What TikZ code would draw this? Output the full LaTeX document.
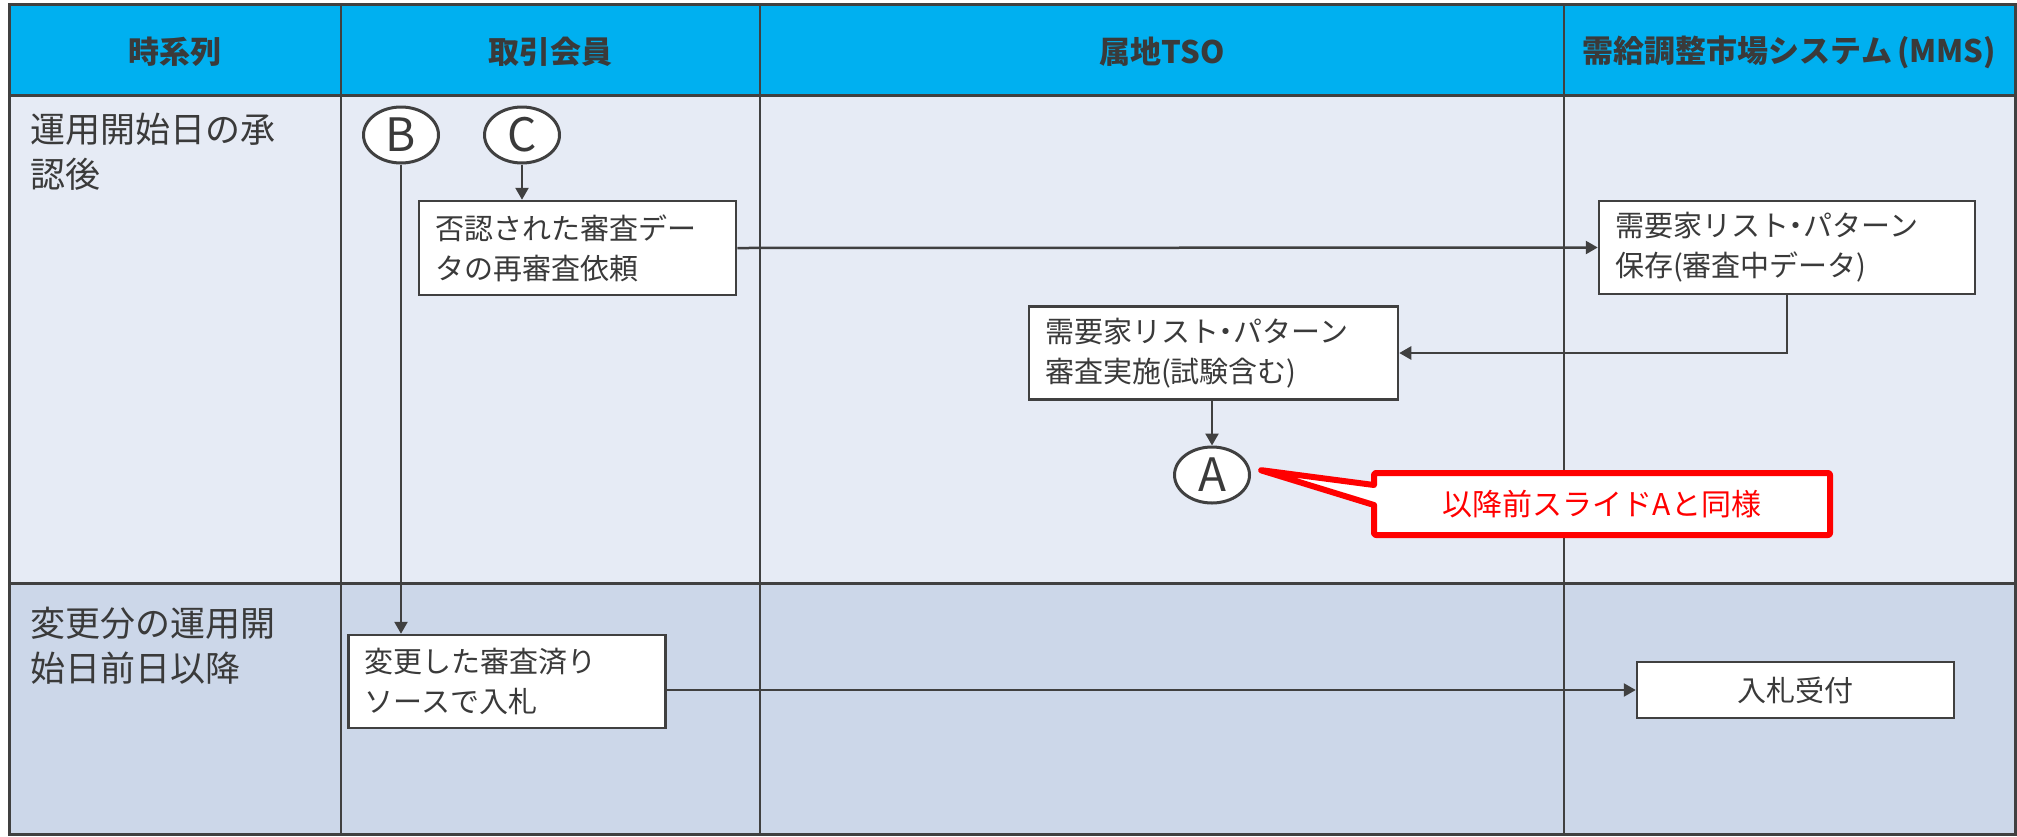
\documentclass[tikz,border=0pt]{standalone}
\usepackage{fontspec}
\setmainfont{Noto Sans CJK JP}
\usetikzlibrary{arrows.meta,shapes.geometric,shapes.callouts,calc}
\definecolor{hdr}{HTML}{00B0F0}
\definecolor{rowa}{HTML}{E6EBF5}
\definecolor{rowb}{HTML}{CCD7E9}
\definecolor{ln}{HTML}{404040}
\definecolor{txt}{HTML}{3A3A3A}
\definecolor{callred}{HTML}{FF0000}
\newcommand{\pdot}{{\addfontfeature{RawFeature=+palt}・}}
\begin{document}
\begin{tikzpicture}[x=1pt,y=-1pt,
  gridline/.style={draw=ln,line width=2pt},
  frameline/.style={draw=ln,line width=3pt},
  hdrtext/.style={font=\fontsize{31}{31}\selectfont\bfseries, text=txt, inner sep=0},
  lbl/.style={font=\fontsize{35}{45}\selectfont, text=txt, align=left, anchor=north west, inner sep=0},
  procbox/.style={draw=ln, line width=2.5pt, fill=white, font=\fontsize{29}{40}\selectfont, text=txt, align=left, inner xsep=16pt, inner ysep=0pt},
  conn/.style={ellipse, draw=ln, line width=3pt, fill=white, minimum width=75pt, minimum height=56pt, inner sep=0pt, font=\fontsize{46}{46}\selectfont, text=txt},
  flow/.style={draw=ln, line width=2.5pt, -{Triangle[length=12pt,width=13pt]}},
  notebox/.style={rectangle callout, draw=callred, line width=6pt, line join=round, rounded corners=2pt, fill=white, text=callred, font=\fontsize{30}{30}\selectfont, callout pointer width=20pt},
]
\useasboundingbox (0,0) rectangle (2017,836);
% backgrounds
\fill[hdr] (9,4) rectangle (2015,95);
\fill[rowa] (9,95) rectangle (2015,583);
\fill[rowb] (9,583) rectangle (2015,834);
% grid
\draw[gridline] (341,4) -- (341,834);
\draw[gridline] (760,4) -- (760,834);
\draw[gridline] (1564,4) -- (1564,834);
\draw[frameline] (9,95) -- (2015,95);
\draw[frameline] (9,583) -- (2015,583);
\draw[frameline] (9,4) rectangle (2015,834);
% header
\node[hdrtext] (h1) at (175,52) {時系列};
\node[hdrtext] (h2) at (550.5,52) {取引会員};
\node[hdrtext] (h3) at (1162,52) {属地TSO};
\node[hdrtext] (h4) at (1789.5,52) {需給調整市場システム\,(MMS)};
% row labels
\node[lbl] (r1) at (30,113) {運用開始日の承\\認後};
\node[lbl] (r2) at (30,607) {変更分の運用開\\始日前日以降};
% connectors (circles)
\node[conn] (B) at (401,135) {B};
\node[conn] (C) at (522,135) {C};
\node[conn] (A) at (1212,475) {A};
% process boxes
\node[procbox, text width=285pt, minimum height=94pt] (rej) at (577.5,248) {否認された審査デー\\タの再審査依頼};
\node[procbox, text width=344pt, minimum height=93pt] (mms) at (1787,247.5) {需要家リスト\pdot パターン\\保存(審査中データ)};
\node[procbox, text width=337pt, minimum height=93pt] (tso) at (1213.5,353) {需要家リスト\pdot パターン\\審査実施(試験含む)};
\node[procbox, text width=285pt, minimum height=93pt] (chg) at (507,681.5) {変更した審査済り\\ソースで入札};
\node[procbox, text width=285pt, minimum height=56pt, align=center] (bid) at (1795.5,690) {入札受付};
% flows
\draw[flow] (C.south) -- (C.south |- rej.north);
\draw[flow] (rej.east) -- (mms.west);
\draw[flow] (mms.south) |- (tso.east);
\draw[flow] (A.north |- tso.south) -- (A.north);
\draw[flow] (B.south) -- (B.south |- chg.north);
\draw[flow] (bid.west -| chg.east) -- (bid.west);
% callout
\coordinate (ptr) at ($(A.east)+(9,-5)$);
\node[notebox, minimum width=456pt, minimum height=62pt, callout absolute pointer={(ptr)}] (note) at (1602,504) {以降前スライドAと同様};
\end{tikzpicture}
\end{document}
